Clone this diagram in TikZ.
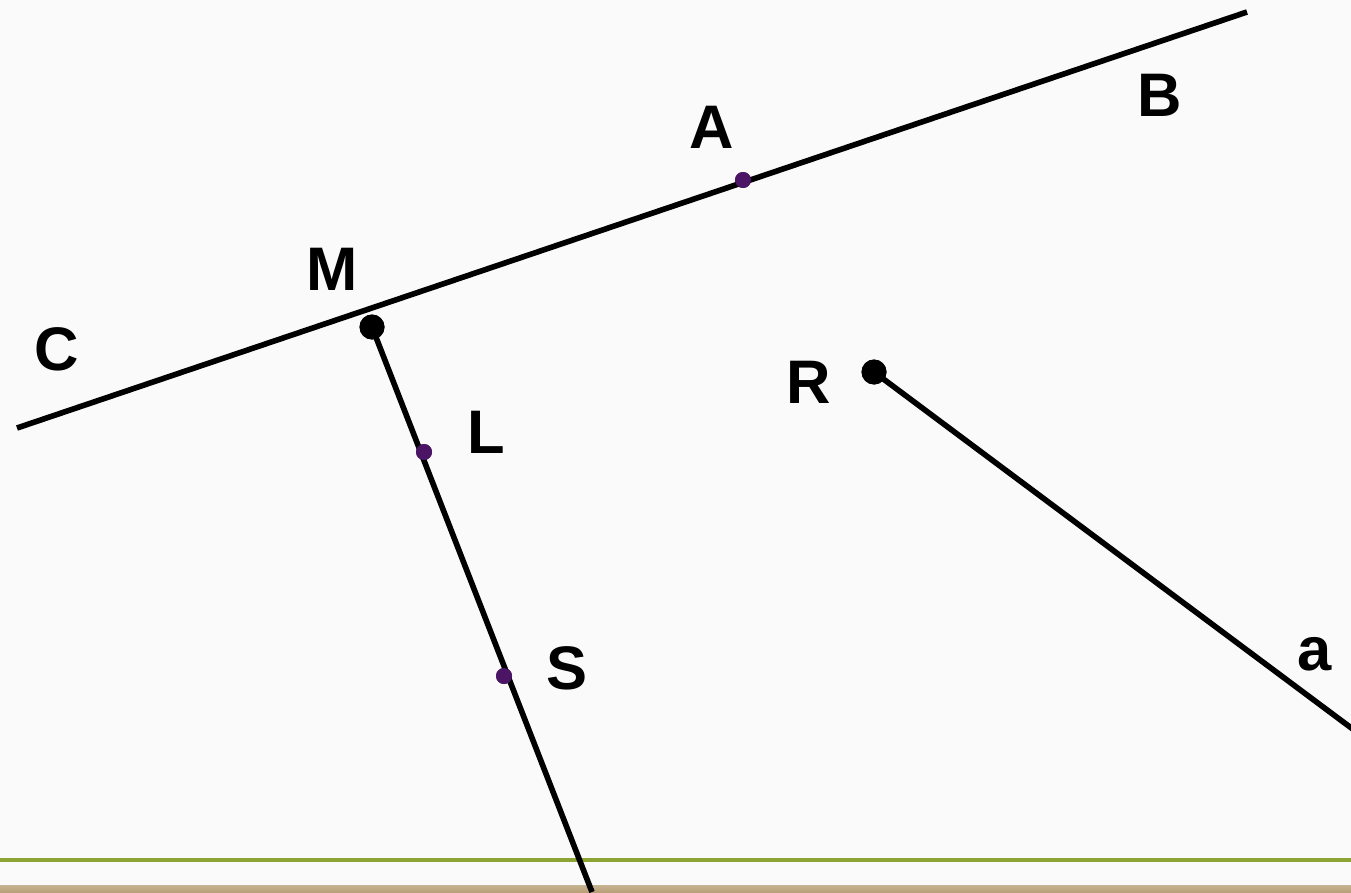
\documentclass[tikz,border=0pt]{standalone}
\usepackage{fontspec}
\setmainfont{Liberation Sans}
\usepackage{tikz}
\usetikzlibrary{positioning,calc}
\definecolor{ptpurple}{RGB}{75, 20,100}
\definecolor{rulegreen}{RGB}{140,165, 50}
\definecolor{bandtan}  {RGB}{185,160,120}
\definecolor{paper}    {RGB}{250,250,250}
\tikzset{
  ln/.style={line width=3.2pt,black},
  bigdot/.style={circle,fill=black,inner sep=0pt,minimum size=0.5cm},
  smalldot/.style={circle,fill=ptpurple,inner sep=0pt,minimum size=0.32cm},
  lab/.style={font=\fontsize{35}{35}\selectfont\bfseries,inner sep=0pt},
}

\begin{document}
\begin{tikzpicture}[x=0.02cm,y=-0.02cm]
  % page
  \fill[paper] (0,0) rectangle (1351,892);
  \useasboundingbox (0,0) rectangle (1351,892);
  \fill[rulegreen] (0,857.5) rectangle (1351,861.5);
  \shade[top color=bandtan!80,bottom color=bandtan] (0,885) rectangle (1351,892);

  % line ends
  \coordinate (Cend) at (17,428);
  \coordinate (Bend) at (1247,12);
  \coordinate (Send) at (592,892);
  \coordinate (aend) at (1358,733);

  % points
  \node[bigdot](M) at (372,327) {};
  \node[bigdot](R) at (874,372) {};
  \node[smalldot](A) at (743,180) {};
  \node[smalldot](L) at (424,452) {};
  \node[smalldot](S) at (504,676) {};

  \draw[ln](Cend) -- (Bend);
  \draw[ln](M.center) -- (Send);
  \draw[ln](R.center) -- (aend);
  \node[bigdot] at (M) {};
  \node[bigdot] at (R) {};
  \node[smalldot] at (A) {};
  \node[smalldot] at (L) {};
  \node[smalldot] at (S) {};

  % labels
  \node[lab](labA) at (712,127) {A};
  \node[lab](labB) at (1160,95)  {B};
  \node[lab](labM) at (332,269) {M};
  \node[lab](labC) at (57,349)  {C};
  \node[lab](labL) at (486,432) {L};
  \node[lab](labR) at (809,382) {R};
  \node[lab](labS) at (567,668) {S};
  \node[lab](laba) at (1315,654) {a};
\end{tikzpicture}
\end{document}
